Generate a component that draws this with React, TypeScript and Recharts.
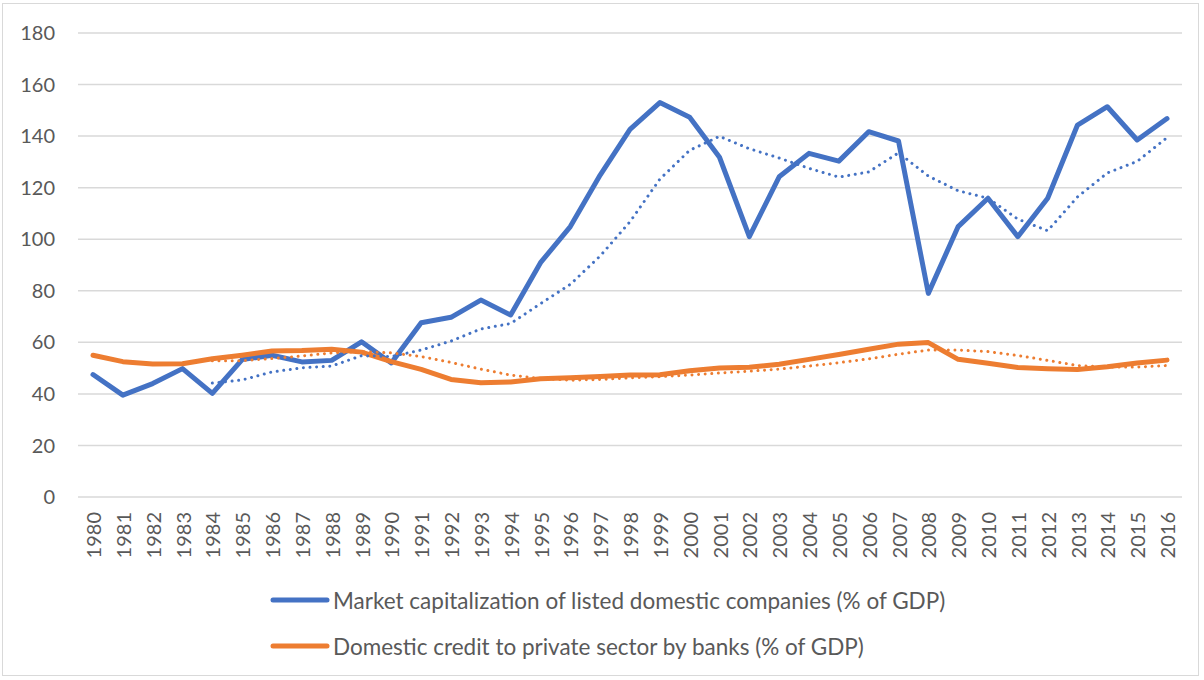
import { LineChart, Line, XAxis, YAxis, CartesianGrid, Legend } from 'recharts'

const YEARS = [
  '1980', '1981', '1982', '1983', '1984', '1985', '1986', '1987', '1988', '1989',
  '1990', '1991', '1992', '1993', '1994', '1995', '1996', '1997', '1998', '1999',
  '2000', '2001', '2002', '2003', '2004', '2005', '2006', '2007', '2008', '2009',
  '2010', '2011', '2012', '2013', '2014', '2015', '2016',
]

// market capitalization of listed domestic companies (% of GDP)
const MARKET_CAP = [
  47.5, 39.5, 44, 49.8, 40.2, 53.3, 55, 52.4, 53, 60.2,
  52, 67.6, 69.7, 76.4, 70.6, 90.9, 104.9, 124.9, 142.6, 153,
  147.3, 131.8, 101, 124.2, 133.3, 130.3, 141.7, 138.1, 79, 104.9,
  115.9, 101, 115.9, 144.3, 151.4, 138.5, 146.8,
]

// domestic credit to private sector by banks (% of GDP)
const CREDIT = [
  55, 52.5, 51.6, 51.7, 53.6, 55, 56.6, 56.8, 57.3, 56.2,
  52.5, 49.5, 45.6, 44.3, 44.6, 45.9, 46.3, 46.7, 47.3, 47.4,
  49, 50, 50.3, 51.5, 53.4, 55.3, 57.3, 59.3, 59.9, 53.4,
  51.9, 50.2, 49.8, 49.5, 50.5, 52, 53.1,
]

// dotted trend lines (start in 1984)
const MARKET_CAP_TREND = [
  null, null, null, null, 44.2, 45.4, 48.5, 50.1, 50.8, 54.8,
  54.5, 57, 60.5, 65.2, 67.3, 75, 82.5, 93.5, 106.8, 123.3,
  134.5, 139.9, 135.1, 131.5, 127.5, 124.1, 126.1, 133.5, 124.5, 118.8,
  115.9, 107.8, 103.3, 116.4, 125.7, 130.2, 139.4,
]

const CREDIT_TREND = [
  null, null, null, null, 52.9, 52.9, 53.7, 54.7, 55.9, 56.4,
  55.9, 54.5, 52.2, 49.6, 47.3, 46, 45.3, 45.6, 46.2, 46.7,
  47.3, 48.1, 48.8, 49.6, 50.8, 52.1, 53.6, 55.4, 57, 57,
  56.4, 54.9, 53, 51, 50.4, 50.4, 51,
]

const Y_TICKS = [0, 20, 40, 60, 80, 100, 120, 140, 160, 180]

const SERIES_MARKET = 'Market capitalization of listed domestic companies (% of GDP)'
const SERIES_CREDIT = 'Domestic credit to private sector by banks (% of GDP)'
const LEGEND_ORDER = [SERIES_MARKET, SERIES_CREDIT]

const BLUE = '#4472C4'
const ORANGE = '#ED7D31'
const TEXT = '#595959'
const GRID = '#d9d9d9'
const FONT = 'Lato, "Open Sans", sans-serif'

const data = YEARS.map((year, i) => ({
  year,
  market: MARKET_CAP[i],
  credit: CREDIT[i],
  marketTrend: MARKET_CAP_TREND[i],
  creditTrend: CREDIT_TREND[i],
}))

// eslint-disable-next-line @typescript-eslint/no-explicit-any
const YearTick = ({ x, y, payload }: any) => (
  <text
    transform={`translate(${x},${y + 7}) rotate(-90)`}
    textAnchor="end"
    dominantBaseline="central"
    fill={TEXT}
    fontSize={20}
    fontFamily={FONT}
  >
    {payload.value}
  </text>
)

// eslint-disable-next-line @typescript-eslint/no-explicit-any
const LegendContent = ({ payload }: any) => {
  const items = ((payload ?? []) as { value: string; color: string; type: string }[])
    .filter(p => LEGEND_ORDER.includes(p.value))
    .sort((a, b) => LEGEND_ORDER.indexOf(a.value) - LEGEND_ORDER.indexOf(b.value))
  return (
    <div style={{ paddingLeft: 270 }}>
      {items.map(p => (
        <div key={p.value} style={{ display: 'flex', alignItems: 'center', height: 46 }}>
          <svg width={60} height={10} style={{ display: 'block' }}>
            <line x1={3} y1={5} x2={57} y2={5} stroke={p.color} strokeWidth={5} strokeLinecap="round" />
          </svg>
          <span style={{ marginLeft: 3, fontFamily: FONT, fontSize: 22.5, color: TEXT, whiteSpace: 'nowrap' }}>{p.value}</span>
        </div>
      ))}
    </div>
  )
}

export default function App() {
  return (
    <div style={{ position: 'fixed', left: 0, top: 0, width: 1204, height: 680, background: '#fff' }}>
      <div
        style={{
          position: 'absolute', left: 2, top: 3, width: 1197, height: 673,
          border: `1px solid ${GRID}`, boxSizing: 'border-box',
        }}
      />
      <LineChart width={1204} height={680} data={data} margin={{ top: 33, right: 22, bottom: 100, left: 0 }}>
        <CartesianGrid vertical={false} stroke={GRID} strokeWidth={1.5} />
        <XAxis
          dataKey="year"
          interval={0}
          axisLine={false}
          tickLine={false}
          padding={{ left: 15, right: 15 }}
          height={83}
          tick={<YearTick />}
        />
        <YAxis
          domain={[0, 180]}
          ticks={Y_TICKS}
          width={78}
          axisLine={false}
          tickLine={false}
          tickMargin={17}
          tick={{ fill: TEXT, fontSize: 20, fontFamily: FONT }}
        />
        <Legend
          layout="vertical"
          align="center"
          verticalAlign="middle"
          wrapperStyle={{ top: 577, left: 0, width: 1204 }}
          content={<LegendContent />}
        />
        <Line name={SERIES_MARKET} dataKey="market" stroke={BLUE} strokeWidth={5} dot={false}
          strokeLinejoin="round" strokeLinecap="round" isAnimationActive={false} />
        <Line name={SERIES_CREDIT} dataKey="credit" stroke={ORANGE} strokeWidth={5} dot={false}
          strokeLinejoin="round" strokeLinecap="round" isAnimationActive={false} />
        <Line dataKey="marketTrend" legendType="none" stroke={BLUE} strokeWidth={3} dot={false}
          strokeDasharray="0.01 6.6" strokeLinecap="round" isAnimationActive={false} />
        <Line dataKey="creditTrend" legendType="none" stroke={ORANGE} strokeWidth={3} dot={false}
          strokeDasharray="0.01 6.6" strokeLinecap="round" isAnimationActive={false} />
      </LineChart>
    </div>
  )
}
